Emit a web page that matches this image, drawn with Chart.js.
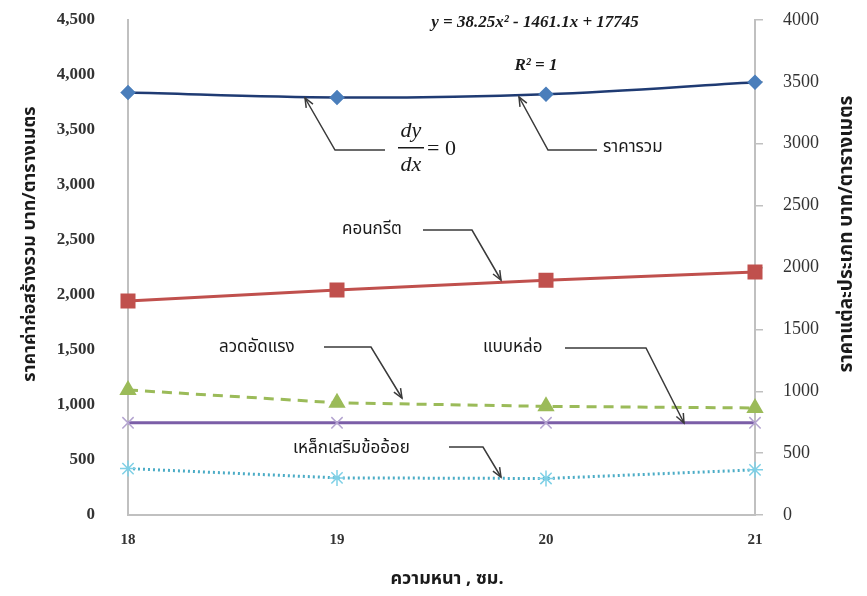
<!DOCTYPE html>
<html>
<head>
<meta charset="utf-8">
<script src="https://cdn.jsdelivr.net/npm/chart.js@4.4.1/dist/chart.umd.min.js"></script>
<style>
html,body{margin:0;padding:0;background:#ffffff;}
#wrap{width:867px;height:596px;}
</style>
</head>
<body>
<div id="wrap"><canvas id="c" width="867" height="596"></canvas></div>
<script>
// ---- data ----
const thickness = ['18', '19', '20', '21'];          // ความหนา (ซม.)
const totalCost = [3840, 3795, 3825, 3935];           // ราคารวม  (left axis)
const concrete  = [1730, 1818, 1897, 1963];           // คอนกรีต   (right axis)
const strand    = [1010, 907, 878, 865];              // ลวดอัดแรง (right axis)
const formwork  = [745, 745, 745, 745];               // แบบหล่อ   (right axis)
const rebar     = [375, 300, 295, 365];               // เหล็กเสริมข้ออ้อย (right axis)
const leftAxisMax = 4500, rightAxisMax = 4000, axisStep = 500;

const xTitle = 'ความหนา , ซม.';
const leftTitle = 'ราคาค่าก่อสร้างรวม บาท/ตารางเมตร';
const rightTitle = 'ราคาแต่ละประเภท บาท/ตารางเมตร';
const equationText = 'y = 38.25x² - 1461.1x + 17745';
const r2Text = 'R² = 1';

const THAI = "'Noto Sans Thai','Loma','Garuda','Tlwg Typo','DejaVu Sans',sans-serif";
const SERIF = "'Liberation Serif','Times New Roman',serif";

function arrow(ctx, pts) {
  ctx.save();
  ctx.strokeStyle = '#3a3a3a';
  ctx.lineWidth = 1.5;
  ctx.beginPath();
  ctx.moveTo(pts[0][0], pts[0][1]);
  for (let i = 1; i < pts.length; i++) ctx.lineTo(pts[i][0], pts[i][1]);
  ctx.stroke();
  const [x1, y1] = pts[pts.length - 2], [x2, y2] = pts[pts.length - 1];
  const a = Math.atan2(y2 - y1, x2 - x1);
  const L = 10, s = 0.4;
  ctx.beginPath();
  ctx.moveTo(x2 - L * Math.cos(a - s), y2 - L * Math.sin(a - s));
  ctx.lineTo(x2, y2);
  ctx.lineTo(x2 - L * Math.cos(a + s), y2 - L * Math.sin(a + s));
  ctx.stroke();
  ctx.restore();
}

const annotations = {
  id: 'annotations',
  afterDraw(chart) {
    const ctx = chart.ctx;
    ctx.save();
    ctx.fillStyle = '#1a1a1a';
    ctx.textAlign = 'center';
    ctx.textBaseline = 'middle';
    // equation + R2
    ctx.font = 'bold italic 17px ' + SERIF;
    ctx.fillText(equationText, 535, 23);
    ctx.fillText(r2Text, 536, 66);
    // dy/dx = 0
    ctx.font = 'italic 22px ' + SERIF;
    ctx.fillText('dy', 411, 131);
    ctx.fillText('dx', 411, 165);
    ctx.fillRect(398, 147, 26, 1.5);
    ctx.font = '22px ' + SERIF;
    ctx.textAlign = 'left';
    ctx.fillText('= 0', 427, 149);
    // Thai labels
    ctx.font = '17px ' + THAI;
    ctx.fillText('ราคารวม', 603, 149);
    ctx.fillText('คอนกรีต', 342, 231);
    ctx.fillText('ลวดอัดแรง', 219, 349);
    ctx.fillText('แบบหล่อ', 483, 349);
    ctx.fillText('เหล็กเสริมข้ออ้อย', 293, 450);
    // axis titles
    ctx.font = 'bold 18px ' + THAI;
    ctx.textAlign = 'center';
    ctx.fillText(xTitle, 447, 580);
    ctx.save();
    ctx.translate(31, 244);
    ctx.rotate(-Math.PI / 2);
    ctx.fillText(leftTitle, 0, 0);
    ctx.restore();
    ctx.save();
    ctx.translate(848, 234);
    ctx.rotate(-Math.PI / 2);
    ctx.font = 'bold 19px ' + THAI;
    ctx.fillText(rightTitle, 0, 0);
    ctx.restore();
    ctx.restore();
    // arrows
    arrow(ctx, [[385, 150], [335, 150], [305, 98]]);
    arrow(ctx, [[597, 150], [548, 150], [519, 97]]);
    arrow(ctx, [[423, 230], [472, 230], [501, 280]]);
    arrow(ctx, [[324, 347], [371, 347], [402, 398]]);
    arrow(ctx, [[565, 348], [646, 348], [684, 423]]);
    arrow(ctx, [[449, 447], [483, 447], [501, 477]]);
  }
};

new Chart(document.getElementById('c'), {
  type: 'line',
  data: {
    labels: thickness,
    datasets: [
      { label: 'ราคารวม', data: totalCost, yAxisID: 'y',
        borderColor: '#1f3b73', borderWidth: 2.5, tension: 0.35,
        pointStyle: 'rectRot', pointRadius: 6, pointBackgroundColor: '#4a7ebb', pointBorderColor: '#4a7ebb' },
      { label: 'คอนกรีต', data: concrete, yAxisID: 'y1',
        borderColor: '#c0504d', borderWidth: 3, tension: 0,
        pointStyle: 'rect', pointRadius: 8.5, pointBackgroundColor: '#c0504d', pointBorderColor: '#c0504d' },
      { label: 'ลวดอัดแรง', data: strand, yAxisID: 'y1',
        borderColor: '#9bbb59', borderWidth: 3, borderDash: [10, 7], tension: 0,
        pointStyle: 'triangle', pointRadius: 7, pointBackgroundColor: '#9bbb59', pointBorderColor: '#9bbb59' },
      { label: 'แบบหล่อ', data: formwork, yAxisID: 'y1',
        borderColor: '#7b5ea7', borderWidth: 3, tension: 0,
        pointStyle: 'crossRot', pointRadius: 8, pointBorderWidth: 1.5, pointBorderColor: '#b4a4d0' },
      { label: 'เหล็กเสริมข้ออ้อย', data: rebar, yAxisID: 'y1',
        borderColor: '#4bacc6', borderWidth: 3, borderDash: [2, 3], tension: 0,
        pointStyle: 'star', pointRadius: 8, pointBorderWidth: 1.5, pointBorderColor: '#7fd0e6' }
    ]
  },
  options: {
    responsive: false,
    animation: false,
    devicePixelRatio: 1,
    layout: { padding: { top: 20, left: 0, right: 0, bottom: 0 } },
    plugins: { legend: { display: false }, tooltip: { enabled: false } },
    scales: {
      x: {
        type: 'category', offset: false,
        grid: { display: false, drawTicks: false },
        border: { display: true, color: '#c0c0c0', width: 2 },
        ticks: { color: '#333', padding: 16, font: { family: SERIF, size: 15, weight: 'bold' }, maxRotation: 0 },
        afterFit(s) { s.height = 81; s.paddingLeft = 0; s.paddingRight = 0; }
      },
      y: {
        position: 'left', min: 0, max: leftAxisMax,
        grid: { display: false, drawTicks: false },
        border: { display: true, color: '#c0c0c0', width: 2 },
        ticks: { stepSize: axisStep, color: '#333', padding: 33,
          font: { family: SERIF, size: 17, weight: 'bold' },
          callback: v => v.toLocaleString('en-US') },
        afterFit(s) { s.width = 128; s.paddingTop = 0; s.paddingBottom = 0; }
      },
      y1: {
        position: 'right', min: 0, max: rightAxisMax,
        grid: { display: true, drawOnChartArea: false, drawTicks: true, tickLength: 8, color: '#c0c0c0', lineWidth: 1.5 },
        border: { display: true, color: '#c0c0c0', width: 2 },
        ticks: { stepSize: axisStep, color: '#333', padding: 20,
          font: { family: SERIF, size: 18 }, callback: v => String(v) },
        afterFit(s) { s.width = 112; s.paddingTop = 0; s.paddingBottom = 0; }
      }
    }
  },
  plugins: [annotations]
});
</script>
</body>
</html>
